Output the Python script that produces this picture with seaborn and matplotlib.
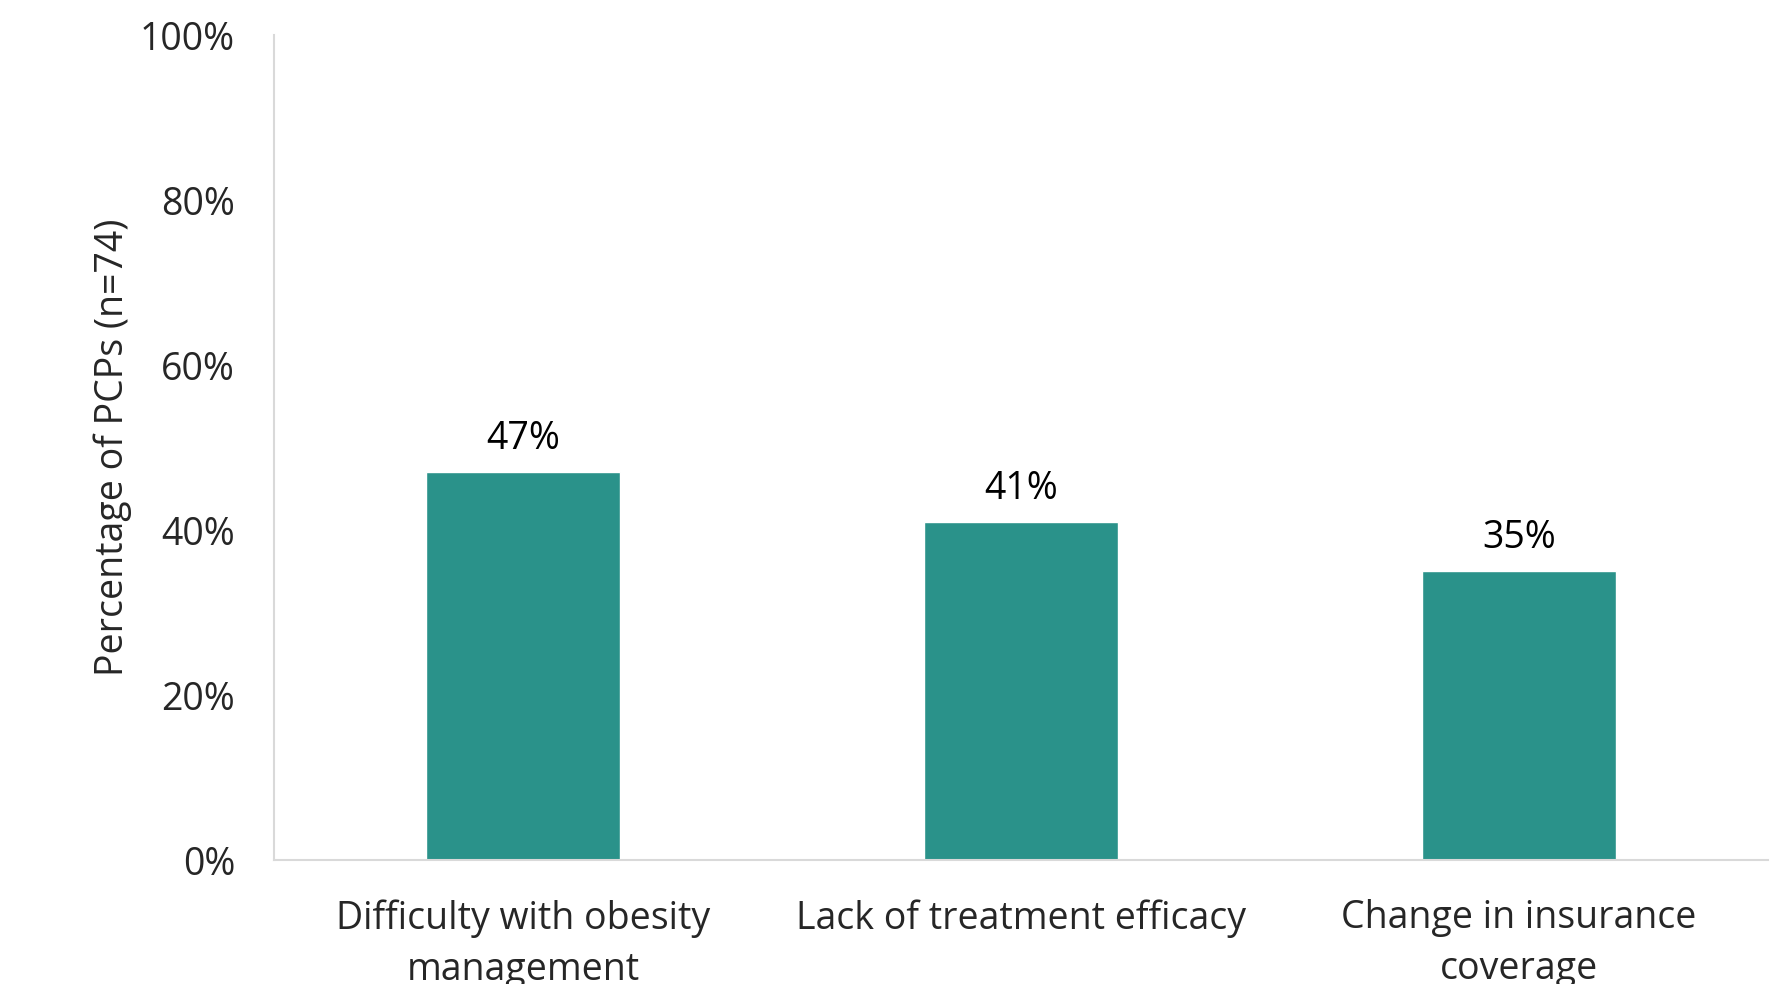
import matplotlib
matplotlib.use("Agg")
import matplotlib.pyplot as plt
import seaborn as sns
import pandas as pd
from matplotlib.ticker import PercentFormatter

# Data
reasons = ["Difficulty with obesity\nmanagement",
           "Lack of treatment efficacy",
           "Change in insurance\ncoverage"]
percent = [47, 41, 35]

df = pd.DataFrame({"reason": reasons, "percent": percent})

sns.set_style("white")
plt.rcParams["font.family"] = ["Open Sans", "DejaVu Sans"]

fig = plt.figure(figsize=(17.81, 9.84), dpi=100)
ax = fig.add_axes([0.1538, 0.126, 0.8389, 0.8384])

sns.barplot(data=df, x="reason", y="percent", color="#2A928A",
            saturation=1, width=0.39, ax=ax)

# Value labels above each bar
for i, v in enumerate(percent):
    ax.annotate(f"{v}%", (i, v), xytext=(0, 10), textcoords="offset points",
                ha="center", va="bottom", fontsize=27, color="black")

ax.set_ylim(0, 100)
ax.set_xlim(-0.5, 2.5)
ax.set_yticks([0, 20, 40, 60, 80, 100])
ax.yaxis.set_major_formatter(PercentFormatter(decimals=0))
ax.set_ylabel("Percentage of PCPs (n=74)", fontsize=27, labelpad=6)
ax.set_xlabel("")
ax.tick_params(axis="y", length=0, pad=28, labelsize=27)
ax.tick_params(axis="x", length=0, pad=28, labelsize=27)
for lbl in ax.get_xticklabels():
    lbl.set_linespacing(1.45)

for side in ["top", "right"]:
    ax.spines[side].set_visible(False)
for side in ["left", "bottom"]:
    ax.spines[side].set_color("#D9D9D9")
    ax.spines[side].set_linewidth(1.5)

fig.savefig("out.png", dpi=100)
